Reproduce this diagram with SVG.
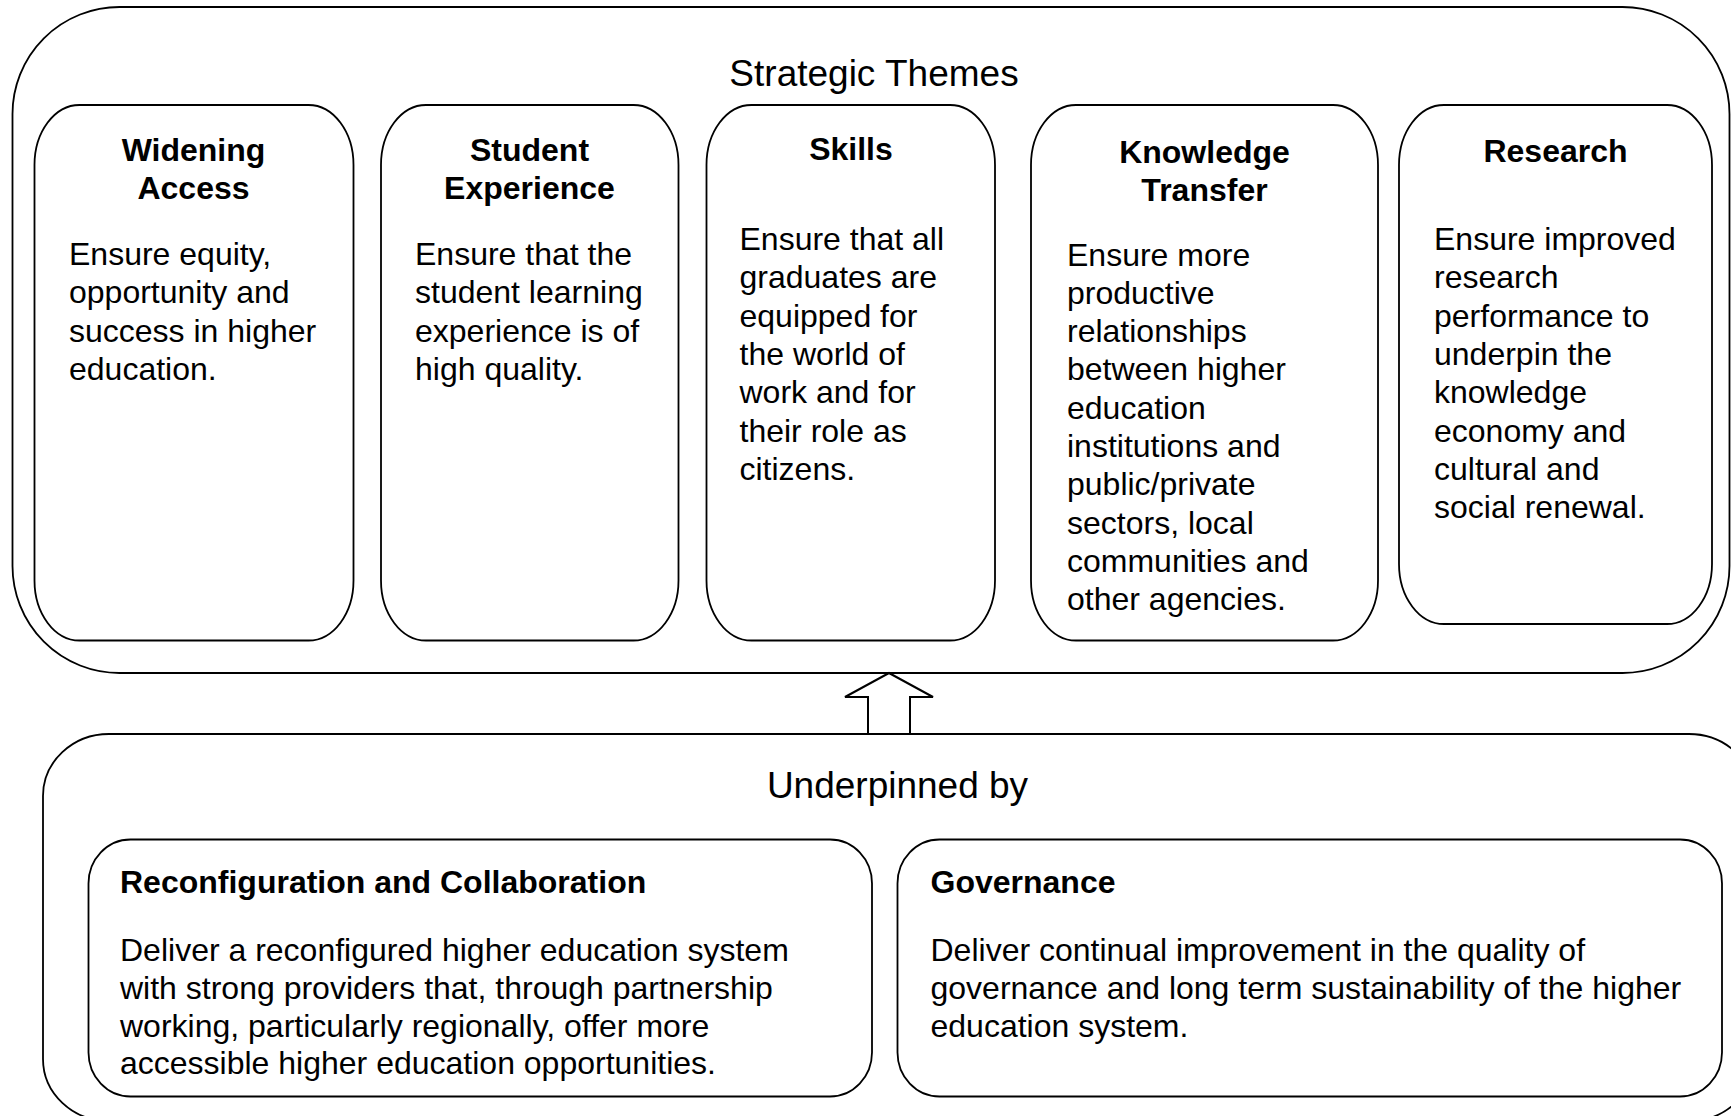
<svg xmlns="http://www.w3.org/2000/svg" width="1731" height="1116" viewBox="0 0 1731 1116">
<style>
  .box{fill:#fff;stroke:#000;stroke-width:1.8}
  .t{font-family:"Liberation Sans",Arial,Helvetica,sans-serif;font-size:32px;fill:#000}
  .b{font-weight:bold}
  .c{text-anchor:middle}
  .h{font-size:37px}
  .arrow{fill:#fff;stroke:#000;stroke-width:2;stroke-linejoin:miter}
</style>
<rect width="1731" height="1116" fill="#fff"/>

<g id="strategic-themes">
  <rect class="box" x="12.5" y="7" width="1717" height="666" rx="107" ry="107"/>
  <text class="t h c" x="874" y="86">Strategic Themes</text>
</g>

<g id="widening-access">
  <rect class="box" x="34.5" y="105" width="319" height="535.5" rx="45" ry="60"/>
  <text class="t b c"><tspan x="193.5" y="161">Widening</tspan><tspan x="193.5" y="199">Access</tspan></text>
  <text class="t"><tspan x="69" y="265">Ensure equity,</tspan><tspan x="69" y="303.3">opportunity and</tspan><tspan x="69" y="341.6">success in higher</tspan><tspan x="69" y="379.9">education.</tspan></text>
</g>

<g id="student-experience">
  <rect class="box" x="381" y="105" width="297.5" height="535.5" rx="45" ry="60"/>
  <text class="t b c"><tspan x="529.5" y="161">Student</tspan><tspan x="529.5" y="199">Experience</tspan></text>
  <text class="t"><tspan x="415" y="265">Ensure that the</tspan><tspan x="415" y="303.3">student learning</tspan><tspan x="415" y="341.6">experience is of</tspan><tspan x="415" y="379.9">high quality.</tspan></text>
</g>

<g id="skills">
  <rect class="box" x="706.5" y="105" width="288.5" height="535.5" rx="45" ry="60"/>
  <text class="t b c" x="851" y="160">Skills</text>
  <text class="t"><tspan x="739.5" y="250">Ensure that all</tspan><tspan x="739.5" y="288.3">graduates are</tspan><tspan x="739.5" y="326.6">equipped for</tspan><tspan x="739.5" y="364.9">the world of</tspan><tspan x="739.5" y="403.2">work and for</tspan><tspan x="739.5" y="441.5">their role as</tspan><tspan x="739.5" y="479.8">citizens.</tspan></text>
</g>

<g id="knowledge-transfer">
  <rect class="box" x="1031" y="105" width="347" height="535.5" rx="45" ry="60"/>
  <text class="t b c"><tspan x="1204.5" y="163">Knowledge</tspan><tspan x="1204.5" y="201">Transfer</tspan></text>
  <text class="t"><tspan x="1067" y="265.5">Ensure more</tspan><tspan x="1067" y="303.8">productive</tspan><tspan x="1067" y="342.1">relationships</tspan><tspan x="1067" y="380.4">between higher</tspan><tspan x="1067" y="418.7">education</tspan><tspan x="1067" y="457">institutions and</tspan><tspan x="1067" y="495.3">public/private</tspan><tspan x="1067" y="533.6">sectors, local</tspan><tspan x="1067" y="571.9">communities and</tspan><tspan x="1067" y="610.2">other agencies.</tspan></text>
</g>

<g id="research">
  <rect class="box" x="1399" y="105" width="313" height="519" rx="45" ry="60"/>
  <text class="t b c" x="1555.5" y="162">Research</text>
  <text class="t"><tspan x="1434" y="250">Ensure improved</tspan><tspan x="1434" y="288.3">research</tspan><tspan x="1434" y="326.6">performance to</tspan><tspan x="1434" y="364.9">underpin the</tspan><tspan x="1434" y="403.2">knowledge</tspan><tspan x="1434" y="441.5">economy and</tspan><tspan x="1434" y="479.8">cultural and</tspan><tspan x="1434" y="518.1">social renewal.</tspan></text>
</g>

<g id="underpinned-by">
  <rect class="box" x="43" y="734" width="1712" height="387" rx="66" ry="62"/>
  <text class="t h c" x="897.5" y="798">Underpinned by</text>
</g>

<g id="reconfiguration-collaboration">
  <rect class="box" x="88.5" y="839.5" width="783.5" height="257" rx="42" ry="44"/>
  <text class="t b" x="120" y="893">Reconfiguration and Collaboration</text>
  <text class="t"><tspan x="120" y="961">Deliver a reconfigured higher education system</tspan><tspan x="120" y="998.8">with strong providers that, through partnership</tspan><tspan x="120" y="1036.6">working, particularly regionally, offer more</tspan><tspan x="120" y="1074.4">accessible higher education opportunities.</tspan></text>
</g>

<g id="governance">
  <rect class="box" x="897.5" y="839.5" width="824.5" height="257" rx="42" ry="44"/>
  <text class="t b" x="930.5" y="893">Governance</text>
  <text class="t"><tspan x="930.5" y="961">Deliver continual improvement in the quality of</tspan><tspan x="930.5" y="998.8">governance and long term sustainability of the higher</tspan><tspan x="930.5" y="1036.6">education system.</tspan></text>
</g>

<g id="connectors">
  <polygon class="arrow" points="889,673 933,697 910,697 910,734 868,734 868,697 845,697"/>
</g>
</svg>
